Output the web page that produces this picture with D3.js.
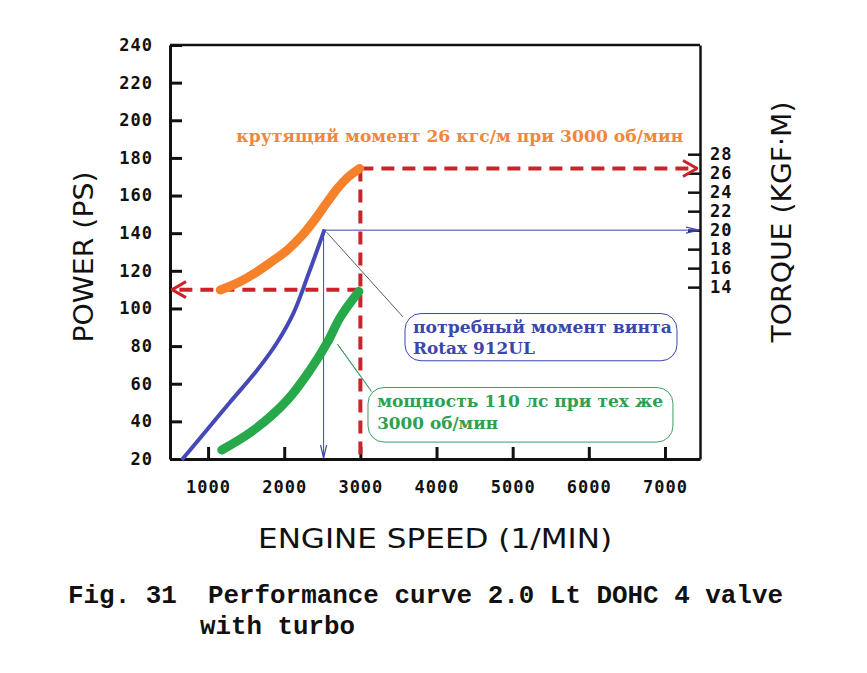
<!DOCTYPE html>
<html lang="ru">
<head>
  <meta charset="UTF-8">
  <title>Performance curve 2.0 Lt DOHC 4 valve with turbo</title>
  <script src="https://d3js.org/d3.v7.min.js"></script>
  <style>
    body { margin: 0; padding: 0; background: #fff; }
    svg { display: block; }
    .tick text { font-family: "DejaVu Sans Mono", monospace; font-weight: bold; font-size: 17px; letter-spacing: 1px; fill: #111; }
    .axis-title { font-family: "DejaVu Sans", sans-serif; font-size: 26px; fill: #111; }
    .note { font-family: "DejaVu Serif", serif; font-weight: bold; font-size: 17px; }
    .fig { font-family: "Liberation Mono", "Courier New", monospace; font-weight: bold; font-size: 25.5px; fill: #111; }
  </style>
</head>
<body>
  <div id="chart"></div>

  <script>
    // axis ticks
    const rpmTicks = [1000, 2000, 3000, 4000, 5000, 6000, 7000];
    const powerTicks = [20, 40, 60, 80, 100, 120, 140, 160, 180, 200, 220, 240];
    const torqueTicks = [14, 16, 18, 20, 22, 24, 26, 28];

    // torque curve (kgf·m)
    const torqueRpm = [1160, 1400, 1600, 1820, 2040, 2230, 2400, 2560, 2700, 2840, 2990];
    const torqueVal = [13.7, 14.5, 15.4, 16.6, 17.9, 19.4, 21.1, 22.9, 24.4, 25.6, 26.5];

    // propeller demand curve (read on the PS scale)
    const propRpm = [654, 1000, 1290, 1640, 1900, 2120, 2320, 2530];
    const propVal = [19.5, 36.2, 50.3, 67.0, 81.5, 97.4, 118.5, 142];

    // engine power curve (PS)
    const powerRpm = [1180, 1600, 2040, 2340, 2560, 2740, 2980];
    const powerVal = [24.8, 35.4, 51.3, 67.3, 81.5, 95.6, 109];

    // marked operating point
    const markRpm = 3000;
    const markTorque = 26.5;
    const markPower = 110;
    const propTorque = 20;

    const margin = { top: 45, right: 167, bottom: 214, left: 170 };
    const width = 867 - margin.left - margin.right;
    const height = 673 - margin.top - margin.bottom;

    const svgRoot = d3.select("#chart")
      .append("svg")
      .attr("width", 867)
      .attr("height", 673);

    const defs = svgRoot.append("defs");
    defs.append("marker")
      .attr("id", "redArrow")
      .attr("viewBox", "0 0 16 20")
      .attr("refX", 15).attr("refY", 10)
      .attr("markerWidth", 16).attr("markerHeight", 20)
      .attr("markerUnits", "userSpaceOnUse")
      .attr("orient", "auto")
      .append("path")
      .attr("d", "M1,2 L15,10 L1,18")
      .attr("fill", "none")
      .attr("stroke", "#cc2229")
      .attr("stroke-width", 3);
    defs.append("marker")
      .attr("id", "blueArrow")
      .attr("viewBox", "0 0 14 8")
      .attr("refX", 13).attr("refY", 4)
      .attr("markerWidth", 14).attr("markerHeight", 8)
      .attr("markerUnits", "userSpaceOnUse")
      .attr("orient", "auto")
      .append("path")
      .attr("d", "M0,1 L13,4 L0,7")
      .attr("fill", "none")
      .attr("stroke", "#3b47b0")
      .attr("stroke-width", 1.2);

    const svg = svgRoot.append("g")
      .attr("transform", `translate(${margin.left},${margin.top})`);

    const x = d3.scaleLinear().domain([500, 7460]).range([0, width]);
    const yP = d3.scaleLinear().domain([20, 240]).range([height, 0]);
    const yT = d3.scaleLinear().domain([-4.1, 39.5]).range([height, 0]);

    // axes
    const styleAxis = (g, w) => {
      g.select(".domain").attr("stroke", "#111").attr("stroke-width", w);
      g.selectAll(".tick line").attr("stroke", "#111").attr("stroke-width", w);
    };

    svg.append("g")
      .attr("transform", `translate(0,${height})`)
      .call(d3.axisBottom(x).tickValues(rpmTicks).tickFormat(d3.format("d"))
        .tickSizeInner(-12).tickSizeOuter(0).tickPadding(22))
      .call(g => styleAxis(g, 3));

    svg.append("g")
      .call(d3.axisLeft(yP).tickValues(powerTicks).tickSizeInner(-12).tickSizeOuter(0).tickPadding(17))
      .call(g => styleAxis(g, 3));

    svg.append("g")
      .attr("transform", `translate(${width},0)`)
      .call(d3.axisRight(yT).tickValues(torqueTicks).tickSizeInner(-12).tickSizeOuter(0).tickPadding(10))
      .call(g => styleAxis(g, 2.5));

    svg.append("line")
      .attr("x1", 0).attr("x2", width)
      .attr("y1", 0).attr("y2", 0)
      .attr("stroke", "#111").attr("stroke-width", 2.5);

    svgRoot.selectAll(".tick text").attr("font-family", null).attr("font-size", null);

    // axis titles
    svgRoot.append("text").attr("class", "axis-title")
      .attr("x", 435).attr("y", 548)
      .attr("text-anchor", "middle")
      .attr("textLength", 354).attr("lengthAdjust", "spacingAndGlyphs")
      .text("ENGINE SPEED (1/MIN)");

    svgRoot.append("text").attr("class", "axis-title")
      .attr("transform", "translate(93,257) rotate(-90)")
      .attr("text-anchor", "middle")
      .attr("textLength", 171).attr("lengthAdjust", "spacingAndGlyphs")
      .text("POWER (PS)");

    svgRoot.append("text").attr("class", "axis-title")
      .attr("transform", "translate(791,222) rotate(-90)")
      .attr("text-anchor", "middle")
      .attr("textLength", 241).attr("lengthAdjust", "spacingAndGlyphs")
      .text("TORQUE (KGF·M)");

    // thin propeller guide lines
    const peakRpm = propRpm[propRpm.length - 1];
    svg.append("line")
      .attr("x1", x(peakRpm) - 1).attr("x2", x(peakRpm) - 1)
      .attr("y1", yT(propTorque)).attr("y2", height - 1)
      .attr("stroke", "#3b47b0").attr("stroke-width", 1)
      .attr("marker-end", "url(#blueArrow)");
    svg.append("line")
      .attr("x1", x(peakRpm)).attr("x2", width - 1)
      .attr("y1", yT(propTorque)).attr("y2", yT(propTorque))
      .attr("stroke", "#3b47b0").attr("stroke-width", 1)
      .attr("marker-end", "url(#blueArrow)");

    // red dashed markers
    const red = svg.append("g")
      .attr("stroke", "#cc2229").attr("stroke-width", 4)
      .attr("stroke-dasharray", "13,8").attr("fill", "none");
    red.append("line")
      .attr("x1", x(markRpm)).attr("x2", x(markRpm))
      .attr("y1", yT(markTorque)).attr("y2", height);
    red.append("line")
      .attr("x1", x(markRpm)).attr("x2", width - 3)
      .attr("y1", yT(markTorque)).attr("y2", yT(markTorque))
      .attr("marker-end", "url(#redArrow)");
    red.append("line")
      .attr("x1", x(markRpm)).attr("x2", 2)
      .attr("y1", yP(markPower)).attr("y2", yP(markPower))
      .attr("marker-end", "url(#redArrow)");

    // curves
    const curve = (xs, ys, yScale) => d3.line()
      .x((d, i) => x(xs[i]))
      .y(d => yScale(d))
      .curve(d3.curveCatmullRom)(ys);

    svg.append("path")
      .attr("d", curve(torqueRpm, torqueVal, yT))
      .attr("fill", "none").attr("stroke", "#f5822a")
      .attr("stroke-width", 9).attr("stroke-linecap", "round");

    svg.append("path")
      .attr("d", curve(propRpm, propVal, yP))
      .attr("fill", "none").attr("stroke", "#4549b8")
      .attr("stroke-width", 4).attr("stroke-linecap", "butt");

    svg.append("path")
      .attr("d", curve(powerRpm, powerVal, yP))
      .attr("fill", "none").attr("stroke", "#27a84a")
      .attr("stroke-width", 9).attr("stroke-linecap", "round");

    // pointer from propeller peak to its note
    svg.append("line")
      .attr("x1", x(peakRpm) + 2).attr("y1", yT(propTorque) + 2)
      .attr("x2", x(3560)).attr("y2", yP(95.5))
      .attr("stroke", "#2a2f55").attr("stroke-width", 0.8);

    // pointers from power curve to its note
    [[3140, 56.5], [3150, 55.5], [3000, 64]].forEach(p => {
      svg.append("line")
        .attr("x1", x(2700)).attr("y1", yP(81))
        .attr("x2", x(p[0])).attr("y2", yP(p[1]))
        .attr("stroke", "#3aa060").attr("stroke-width", 0.8);
    });

    // notes
    svg.append("text").attr("class", "note")
      .attr("x", x(1370)).attr("y", yP(188.5))
      .attr("fill", "#f0873a")
      .attr("textLength", 447).attr("lengthAdjust", "spacingAndGlyphs")
      .text("крутящий момент 26 кгс/м при 3000 об/мин");

    const noteBox = (x0, x1, p0, p1, color) => svg.append("rect")
      .attr("x", x(x0)).attr("y", yP(p0))
      .attr("width", x(x1) - x(x0)).attr("height", yP(p1) - yP(p0))
      .attr("rx", 16).attr("ry", 16)
      .attr("fill", "#fff").attr("stroke", color).attr("stroke-width", 1);

    noteBox(3586, 7158, 97.3, 72.2, "#3b47b0");
    svg.append("text").attr("class", "note")
      .attr("x", x(3690)).attr("y", yP(86.7))
      .attr("fill", "#3b47a8")
      .attr("textLength", 259).attr("lengthAdjust", "spacingAndGlyphs")
      .text("потребный момент винта");
    svg.append("text").attr("class", "note")
      .attr("x", x(3690)).attr("y", yP(75.6))
      .attr("fill", "#3b47a8")
      .attr("textLength", 122).attr("lengthAdjust", "spacingAndGlyphs")
      .text("Rotax 912UL");

    noteBox(3100, 7105, 58, 29, "#3aa060");
    svg.append("text").attr("class", "note")
      .attr("x", x(3220)).attr("y", yP(47.5))
      .attr("fill", "#2ea04e")
      .attr("textLength", 286).attr("lengthAdjust", "spacingAndGlyphs")
      .text("мощность 110 лс при тех же");
    svg.append("text").attr("class", "note")
      .attr("x", x(3220)).attr("y", yP(36))
      .attr("fill", "#2ea04e")
      .attr("textLength", 121).attr("lengthAdjust", "spacingAndGlyphs")
      .text("3000 об/мин");

    // figure caption
    svgRoot.append("text").attr("class", "fig")
      .attr("x", 68).attr("y", 603)
      .attr("xml:space", "preserve")
      .style("white-space", "pre")
      .attr("textLength", 715).attr("lengthAdjust", "spacingAndGlyphs")
      .text("Fig. 31  Performance curve 2.0 Lt DOHC 4 valve");
    svgRoot.append("text").attr("class", "fig")
      .attr("x", 200).attr("y", 634)
      .attr("textLength", 155).attr("lengthAdjust", "spacingAndGlyphs")
      .text("with turbo");
  </script>
</body>
</html>
